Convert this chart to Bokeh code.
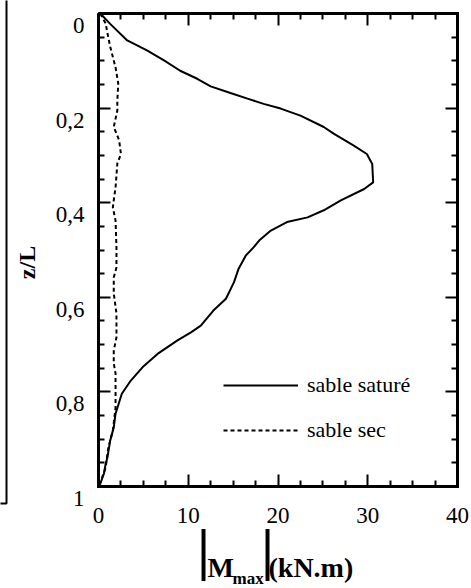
import math
from bokeh.plotting import figure
from bokeh.models import (Range1d, Legend, LegendItem, Label, ColumnDataSource, BoxAnnotation,
                          LinearAxis, FixedTicker)
from bokeh.core.properties import value
from bokeh.embed import file_html
from bokeh.resources import INLINE

SERIF = "Liberation Serif"

# |Mmax| (kN.m) versus z/L -- saturated sand
sat_z = [0.0, 0.022, 0.057, 0.078, 0.099, 0.121, 0.138, 0.154, 0.168, 0.180, 0.191, 0.201,
         0.216, 0.240, 0.254, 0.279, 0.297, 0.318, 0.357, 0.371, 0.395, 0.416, 0.431, 0.441,
         0.459, 0.480, 0.494, 0.512, 0.540, 0.568, 0.603, 0.628, 0.660, 0.674, 0.691, 0.718,
         0.748, 0.776, 0.804, 0.822, 0.846, 0.875, 0.903, 0.938, 0.952, 0.973, 0.994, 1.0]
sat_m = [0.2, 1.3, 3.2, 5.4, 7.3, 9.1, 11.0, 12.5, 14.7, 16.6, 18.4, 20.3,
         22.5, 25.1, 26.2, 28.4, 29.9, 30.5, 30.6, 29.6, 27.0, 25.1, 23.3, 21.0,
         19.2, 17.9, 17.3, 16.4, 15.6, 15.1, 14.2, 12.8, 11.4, 10.3, 8.8, 6.7,
         4.9, 3.6, 2.6, 2.3, 1.9, 1.7, 1.3, 1.0, 0.8, 0.6, 0.2, 0.0]

# dry sand
dry_z = [0.0, 0.021, 0.042, 0.070, 0.114, 0.148, 0.184, 0.205, 0.240, 0.268, 0.297, 0.317,
         0.368, 0.395, 0.410, 0.438, 0.494, 0.537, 0.558, 0.592, 0.634, 0.685, 0.712, 0.740,
         0.761, 0.797, 0.833, 0.882, 0.917, 0.960, 0.981, 1.0]
dry_m = [0.2, 0.8, 1.0, 1.3, 1.9, 2.2, 2.1, 2.1, 1.7, 2.3, 2.5, 2.1,
         1.9, 1.7, 1.6, 1.9, 2.0, 2.0, 1.7, 1.7, 2.0, 2.0, 1.7, 1.7,
         1.9, 1.9, 1.9, 1.6, 1.1, 0.8, 0.4, 0.0]

x_ticks = [0, 10, 20, 30, 40]
x_tick_labels = ["0", "10", "20", "30", "40"]
x_minor = [2.5, 5, 7.5, 12.5, 15, 17.5, 22.5, 25, 27.5, 32.5, 35, 37.5]
y_ticks = [0.0, 0.2, 0.4, 0.6, 0.8, 1.0]
y_tick_labels = ["0", "0,2", "0,4", "0,6", "0,8", "1"]
y_minor = [0.05, 0.1, 0.15, 0.25, 0.3, 0.35, 0.45, 0.5, 0.55,
           0.65, 0.7, 0.75, 0.85, 0.9, 0.95]

# ---- layout (pixels) ----
W, H = 471, 588
FX0, FX1, FY0, FY1 = 98, 457, 13, 486       # plot box edges in the picture
XMIN, XMAX = x_ticks[0], x_ticks[-1]
YMIN, YMAX = y_ticks[0], y_ticks[-1]
ux = (XMAX - XMIN) / (FX1 - FX0)            # data units per pixel
uy = (YMAX - YMIN) / (FY1 - FY0)
x_range = Range1d(XMIN - FX0 * ux, XMAX + (W - FX1) * ux)
y_range = Range1d(YMAX + (H - FY1) * uy, YMIN - FY0 * uy)   # flipped: z grows downward

p = figure(width=W, height=H, x_range=x_range, y_range=y_range,
           output_backend="svg", toolbar_location=None,
           x_axis_location=None, y_axis_location=None,
           min_border=0, min_border_left=0, min_border_right=0,
           min_border_top=0, min_border_bottom=0)
p.grid.grid_line_color = None
p.outline_line_color = None
p.background_fill_color = "white"
p.border_fill_color = "white"

# axes pinned to the four sides of the plot box (inward ticks, no labels)
xt = FixedTicker(ticks=x_ticks, minor_ticks=x_minor)
yt = FixedTicker(ticks=y_ticks, minor_ticks=y_minor)
def pinned_axis(ticker, loc, bounds):
    return LinearAxis(ticker=ticker, fixed_location=loc, bounds=bounds,
                      axis_line_width=3, axis_line_color="black",
                      major_tick_in=12, major_tick_out=0, minor_tick_in=6, minor_tick_out=0,
                      major_tick_line_width=2, minor_tick_line_width=2,
                      major_tick_line_color="black", minor_tick_line_color="black",
                      major_label_text_color=None, major_label_standoff=0)
p.add_layout(pinned_axis(xt, YMAX, (XMIN, XMAX)), "below")
p.add_layout(pinned_axis(xt, YMIN, (XMIN, XMAX)), "above")
p.add_layout(pinned_axis(yt, XMIN, (YMIN, YMAX)), "left")
p.add_layout(pinned_axis(yt, XMAX, (YMIN, YMAX)), "right")

# plot box
box_src = ColumnDataSource(dict(bx=[XMIN, XMAX, XMAX, XMIN, XMIN],
                                by=[YMIN, YMIN, YMAX, YMAX, YMIN]))
p.line("bx", "by", source=box_src, line_color="black", line_width=3, line_join="miter")

# tick labels
p.text(x=x_ticks, y=[YMAX] * len(x_ticks), text=x_tick_labels, y_offset=29,
       text_align="center", text_baseline="middle", text_font=value(SERIF),
       text_font_size="23px", text_color="black")
p.text(x=[XMIN] * len(y_ticks), y=y_ticks, text=y_tick_labels, x_offset=-14, y_offset=12,
       text_align="right", text_baseline="middle", text_font=value(SERIF),
       text_font_size="23px", text_color="black")

# curves
src_sat = ColumnDataSource(dict(m=sat_m, z=sat_z))
src_dry = ColumnDataSource(dict(m=dry_m, z=dry_z))
r1 = p.line("m", "z", source=src_sat, line_color="black", line_width=2)
r2 = p.line("m", "z", source=src_dry, line_color="black", line_width=2, line_dash="4 3")

legend = Legend(items=[LegendItem(label="sable saturé", renderers=[r1]),
                       LegendItem(label="sable sec", renderers=[r2])],
                location=(223, H - 450), orientation="vertical",
                glyph_width=75, glyph_height=40, label_height=40, label_standoff=9,
                spacing=5, padding=0, margin=0, border_line_color=None,
                background_fill_alpha=0, label_text_font=SERIF,
                label_text_font_size="22px", label_text_color="black")
p.add_layout(legend)

# axis titles (screen units: from bottom-left of the picture)
def label(text, x, y, size, bold=True, **kw):
    p.add_layout(Label(x=x, y=y, x_units="screen", y_units="screen", text=text,
                       text_font=SERIF, text_font_style="bold" if bold else "normal",
                       text_font_size=size, text_color="black", **kw))

label("z/L", 26, H - 262, "24px", angle=math.pi / 2,
      text_align="center", text_baseline="middle")
for bx in (203, 267):
    label("|", bx, H - 549, "57px", bold=True, text_align="center", text_baseline="middle")
label("M", 207, H - 567, "28px", text_align="left", text_baseline="alphabetic")
label("max", 232, H - 578, "17px", text_align="left", text_baseline="alphabetic")
label("(kN.m)", 268, H - 567, "28px", text_align="left", text_baseline="alphabetic")

# partial frame at the left edge of the picture
p.add_layout(BoxAnnotation(left=-20, right=6, top=H + 20, bottom=H - 503,
                           left_units="screen", right_units="screen",
                           top_units="screen", bottom_units="screen",
                           fill_alpha=0, line_color="black", line_alpha=1, line_width=2))

open("out.html", "w").write(file_html(p, INLINE))
